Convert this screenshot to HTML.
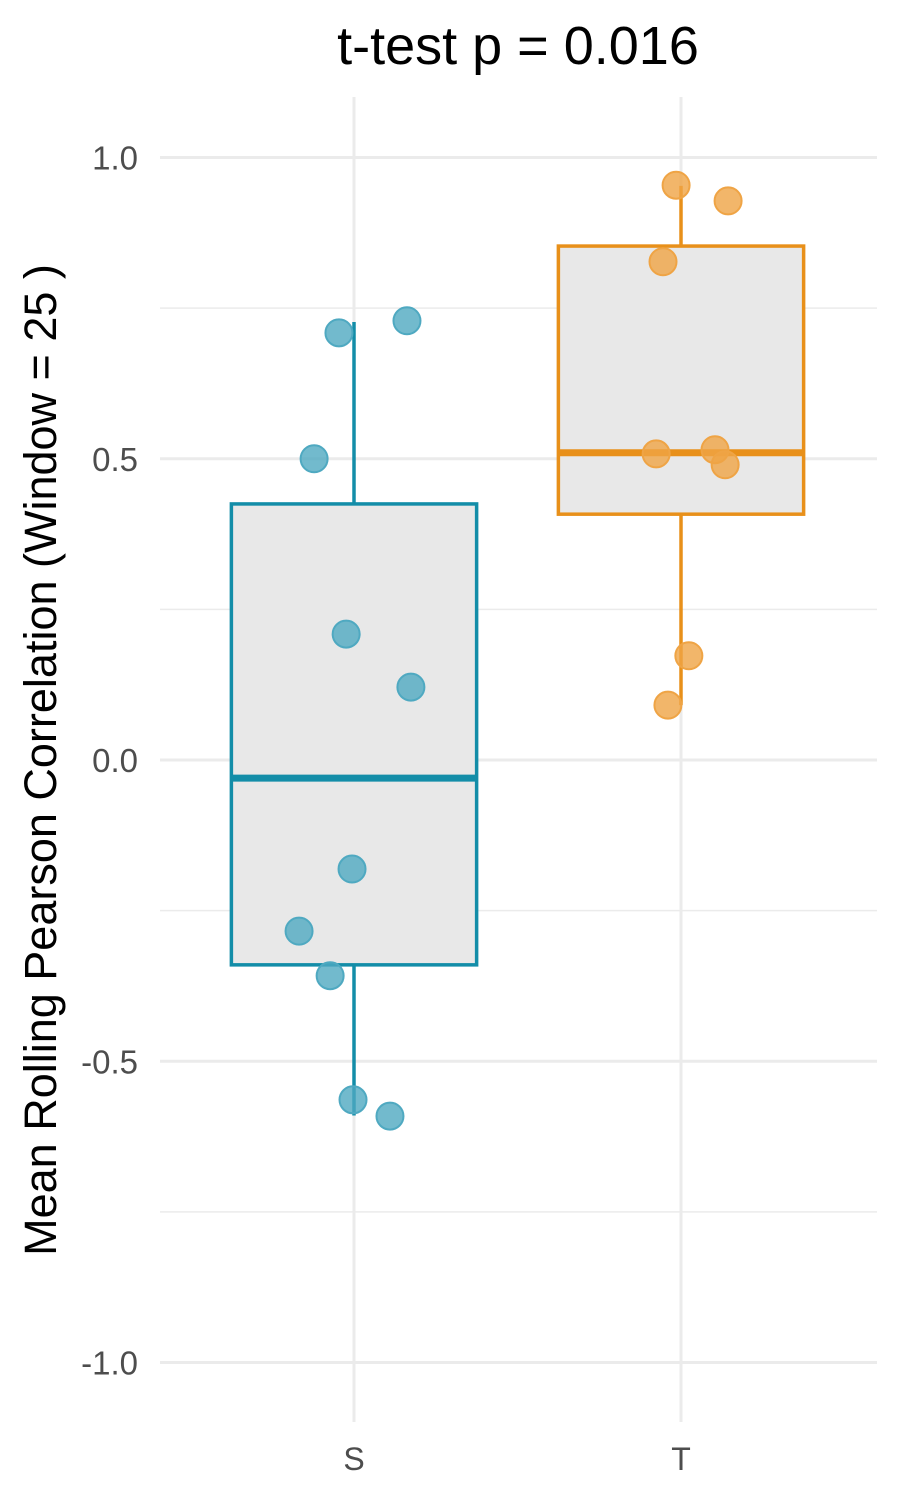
<!DOCTYPE html>
<html><head><meta charset="utf-8"><style>
body{margin:0;background:#fff;}
svg{display:block;font-family:"Liberation Sans",Arial,sans-serif;}
</style></head><body>
<svg id="chart" width="900" height="1500" viewBox="0 0 900 1500">
<text x="518" y="64" font-size="54" text-anchor="middle" fill="#000">t-test p = 0.016</text>
<text transform="translate(56,760) rotate(-90)" font-size="45" text-anchor="middle" fill="#000">Mean Rolling Pearson Correlation (Window = 25 )</text>
<g id="grid"></g><g id="boxes"></g><g id="points"></g><g id="axes"></g>
</svg>
<script>
const categories=["S","T"];
const boxQ1=[-0.34,0.408];
const boxMedian=[-0.03,0.51];
const boxQ3=[0.425,0.853];
const whiskerLow=[-0.59,0.091];
const whiskerHigh=[0.727,0.953];
const sValues=[0.709,0.729,0.5,0.209,0.121,-0.181,-0.284,-0.358,-0.564,-0.591];
const sJitter=[-0.046,0.162,-0.122,-0.024,0.174,-0.006,-0.168,-0.073,-0.003,0.11];
const tValues=[0.954,0.928,0.827,0.508,0.515,0.49,0.173,0.091];
const tJitter=[-0.015,0.144,-0.055,-0.076,0.104,0.135,0.024,-0.04];
const yTicks=[-1,-0.5,0,0.5,1];
const yTickLabels=["-1.0","-0.5","0.0","0.5","1.0"];
const yMinor=[-0.75,-0.25,0.25,0.75];

const ns="http://www.w3.org/2000/svg";
const y=v=>760-602.5*v;
const x=i=>354+327*i;
const catW=327;
const lineColors=["#138DA8","#E8901A"];
const ptColors=["#4FA9C1","#EFA445"];
function mk(tag,attrs,parent){const e=document.createElementNS(ns,tag);for(const k in attrs)e.setAttribute(k,attrs[k]);document.getElementById(parent).appendChild(e);return e;}

yMinor.forEach(v=>{
 const l=mk("line",{x1:160,x2:877,y1:y(v),y2:y(v),stroke:"#ebebeb","stroke-width":1.5},"grid");
 
 
});
yTicks.forEach((v,i)=>{
 const l=mk("line",{x1:160,x2:877,y1:y(v),y2:y(v),stroke:"#ebebeb","stroke-width":3},"grid");
 
 
 const t=mk("text",{x:138,y:y(v)+12,"font-size":33,"text-anchor":"end",fill:"#4d4d4d"},"axes");
 t.textContent=yTickLabels[i];
 
 
});
categories.forEach((c,i)=>{
 const l=mk("line",{x1:x(i),x2:x(i),y1:97,y2:1422,stroke:"#ebebeb","stroke-width":3},"grid");
 
 
 const t=mk("text",{x:x(i),y:1470,"font-size":32,"text-anchor":"middle",fill:"#4d4d4d"},"axes");
 t.textContent=c;
 
 
 const col=lineColors[i];
 const w=mk("line",{x1:x(i),x2:x(i),y1:y(whiskerHigh[i]),y2:y(whiskerLow[i]),stroke:col,"stroke-width":3.5},"boxes");
 
 
 const hw=catW*0.375;
 const r=mk("rect",{x:x(i)-hw,y:y(boxQ3[i]),width:2*hw,height:y(boxQ1[i])-y(boxQ3[i]),fill:"#e8e8e8",stroke:col,"stroke-width":3.5},"boxes");
 
 
 const m=mk("line",{x1:x(i)-hw,x2:x(i)+hw,y1:y(boxMedian[i]),y2:y(boxMedian[i]),stroke:col,"stroke-width":7},"boxes");
 
 
});
[[sValues,sJitter],[tValues,tJitter]].forEach((pair,i)=>{
 pair[0].forEach((v,j)=>{
  const p=mk("circle",{cx:x(i+pair[1][j]),cy:y(v),r:13.5,fill:ptColors[i],"fill-opacity":0.8,stroke:ptColors[i],"stroke-width":2},"points");
  
  
 });
});
</script>
</body></html>
